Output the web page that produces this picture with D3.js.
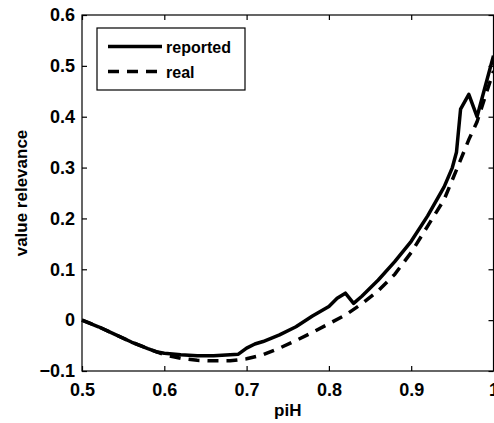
<!DOCTYPE html>
<html>
<head>
<meta charset="utf-8">
<script src="https://cdn.jsdelivr.net/npm/d3@7"></script>
<style>
html,body{margin:0;padding:0;background:#fff;}
svg{display:block;}
text{font-family:"Liberation Sans",Arial,sans-serif;font-weight:bold;fill:#000;}
</style>
</head>
<body>
<script>
// ---- data ----
const reportedX = [0.50,0.52,0.54,0.56,0.58,0.59,0.60,0.62,0.64,0.66,0.68,0.69,0.70,0.71,0.72,0.74,0.76,0.78,0.80,0.81,0.82,0.83,0.84,0.86,0.88,0.90,0.92,0.94,0.95,0.955,0.96,0.97,0.98,1.00];
const reportedY = [0.000,-0.013,-0.028,-0.043,-0.056,-0.062,-0.065,-0.068,-0.070,-0.070,-0.068,-0.067,-0.055,-0.047,-0.042,-0.029,-0.013,0.008,0.027,0.043,0.053,0.033,0.047,0.079,0.115,0.155,0.205,0.262,0.300,0.330,0.415,0.444,0.400,0.520];
const realX = [0.50,0.52,0.54,0.56,0.58,0.60,0.62,0.64,0.66,0.68,0.70,0.72,0.74,0.76,0.78,0.80,0.82,0.84,0.86,0.88,0.90,0.92,0.94,0.96,0.97,0.98,1.00];
const realY = [0.000,-0.013,-0.028,-0.043,-0.056,-0.068,-0.075,-0.079,-0.080,-0.080,-0.076,-0.068,-0.055,-0.040,-0.024,-0.007,0.010,0.032,0.058,0.090,0.133,0.185,0.237,0.315,0.355,0.390,0.490];
const xTicks = [0.5,0.6,0.7,0.8,0.9,1];
const yTicks = [-0.1,0,0.1,0.2,0.3,0.4,0.5,0.6];
const seriesNames = ["reported","real"];
const xLabel = "piH";
const yLabel = "value relevance";

// ---- layout ----
const W = 494, H = 423;
const m = {left:82, right:0.5, top:15, bottom:52};
const svg = d3.select("body").append("svg").attr("width",W).attr("height",H);

const x = d3.scaleLinear().domain([0.5,1]).range([m.left, W - m.right]);
const y = d3.scaleLinear().domain([-0.1,0.6]).range([H - m.bottom, m.top]);

const fmt = d => d === 1 ? "1" : (d === 0 ? "0" : d3.format(".1f")(d).replace("-", "\u2212"));

// frame
svg.append("rect").attr("x",x(0.5)).attr("y",y(0.6))
  .attr("width",x(1)-x(0.5)).attr("height",y(-0.1)-y(0.6))
  .attr("fill","none").attr("stroke","#000").attr("stroke-width",1.2);

// axes (inward ticks)
const axB = svg.append("g").attr("transform",`translate(0,${y(-0.1)})`)
  .call(d3.axisBottom(x).tickValues(xTicks).tickSize(-5).tickPadding(11).tickFormat(fmt));
const axT = svg.append("g").attr("transform",`translate(0,${y(0.6)})`)
  .call(d3.axisTop(x).tickValues(xTicks).tickSize(-5).tickFormat(""));
const axL = svg.append("g").attr("transform",`translate(${x(0.5)},0)`)
  .call(d3.axisLeft(y).tickValues(yTicks).tickSize(-5).tickPadding(7).tickFormat(fmt));
const axR = svg.append("g").attr("transform",`translate(${x(1)},0)`)
  .call(d3.axisRight(y).tickValues(yTicks).tickSize(-5).tickFormat(""));
[axB,axT,axL,axR].forEach(g=>{
  g.select(".domain").remove();
  g.selectAll(".tick line").attr("stroke","#000").attr("stroke-width",1.2);
  g.selectAll("text").attr("font-size",18).attr("font-family","Liberation Sans, Arial, sans-serif").attr("font-weight","bold").attr("fill","#000");
});
axB.selectAll("text").attr("dy","0.75em");

// lines
const lineGen = d3.line().x(d=>x(d[0])).y(d=>y(d[1]));
const realData = realX.map((v,i)=>[v,realY[i]]);
const repData = reportedX.map((v,i)=>[v,reportedY[i]]);
svg.append("path").datum(realData).attr("d",lineGen)
  .attr("fill","none").attr("stroke","#000").attr("stroke-width",3.5)
  .attr("stroke-dasharray","11,8");
svg.append("path").datum(repData).attr("d",lineGen)
  .attr("fill","none").attr("stroke","#000").attr("stroke-width",3.5)
  .attr("stroke-linejoin","round");

// axis labels
svg.append("text").attr("x",(x(0.5)+x(1))/2).attr("y",416)
  .attr("text-anchor","middle").attr("font-size",17).text(xLabel);
svg.append("text").attr("transform",`translate(27,${(y(0.6)+y(-0.1))/2}) rotate(-90)`)
  .attr("text-anchor","middle").attr("font-size",17).text(yLabel);

// legend
const lg = svg.append("g");
lg.append("rect").attr("x",97).attr("y",28).attr("width",148).attr("height",62)
  .attr("fill","#fff").attr("stroke","#000").attr("stroke-width",1.2);
const styles = [null,"11,8"];
seriesNames.forEach((name,i)=>{
  const ly = 46.5 + i*25;
  const l = lg.append("line").attr("x1",108).attr("x2",162).attr("y1",ly).attr("y2",ly)
    .attr("stroke","#000").attr("stroke-width",3.5);
  if (styles[i]) l.attr("stroke-dasharray",styles[i]);
  lg.append("text").attr("x",166).attr("y",ly+6).attr("font-size",16).text(name);
});
</script>
</body>
</html>
